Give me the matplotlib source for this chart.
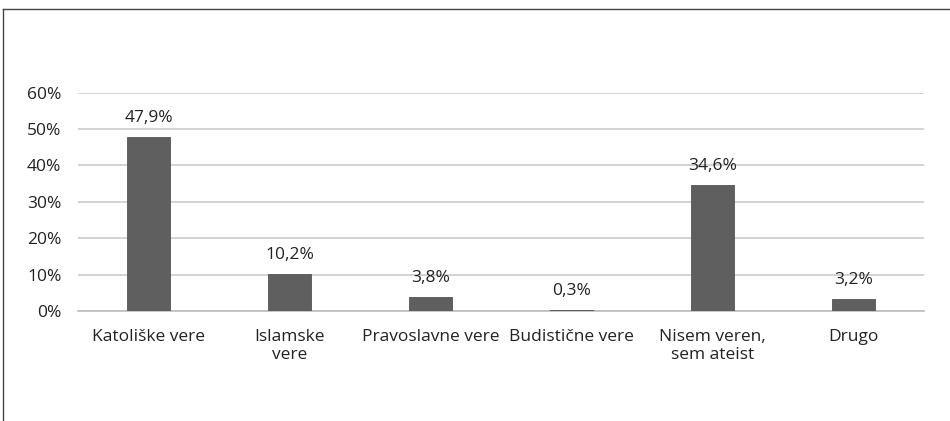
import matplotlib.pyplot as plt
from matplotlib.lines import Line2D

categories = ['Katoliške vere', 'Islamske\nvere', 'Pravoslavne vere',
              'Budistične vere', 'Nisem veren,\nsem ateist', 'Drugo']
values = [47.9, 10.2, 3.8, 0.3, 34.6, 3.2]
labels = ['47,9%', '10,2%', '3,8%', '0,3%', '34,6%', '3,2%']
yticks = [0, 10, 20, 30, 40, 50, 60]

plt.rcParams['font.family'] = ['Open Sans', 'DejaVu Sans']

fig = plt.figure(figsize=(9.5, 4.21), dpi=100)
ax = fig.add_axes([0.0821, 0.2613, 0.8905, 0.5185])

x = range(len(categories))
bars = ax.bar(x, values, width=0.31, color='#5f5f5f', edgecolor='#555555',
              linewidth=0.6, zorder=3)

for b, lab in zip(bars, labels):
    ax.annotate(lab, (b.get_x() + b.get_width() / 2, b.get_height()),
                xytext=(0, 8), textcoords='offset points',
                ha='center', va='bottom', fontsize=12.5, color='#222222')

ax.set_xlim(-0.5, len(categories) - 0.5)
ax.set_ylim(0, 60)
ax.set_yticks(yticks)
ax.set_yticklabels([f'{t}%' for t in yticks])
ax.set_xticks(list(x))
ax.set_xticklabels(categories, linespacing=1.2)

ax.yaxis.grid(True, color='#c8c8c8', linewidth=1.1, zorder=0)
for s in ['top', 'right', 'left']:
    ax.spines[s].set_visible(False)
ax.spines['bottom'].set_color('#b8b8b8')
ax.spines['bottom'].set_linewidth(1.1)
ax.tick_params(axis='both', length=0, labelsize=12.5, colors='#222222')
ax.tick_params(axis='y', pad=12)
ax.tick_params(axis='x', pad=13)

# outer frame lines (top and left)
fig.add_artist(Line2D([0.0035, 1.0], [0.9786, 0.9786], color='#444444', linewidth=1.0))
fig.add_artist(Line2D([0.0035, 0.0035], [0.0, 0.9786], color='#444444', linewidth=1.0))

fig.savefig('out.png', dpi=100)
